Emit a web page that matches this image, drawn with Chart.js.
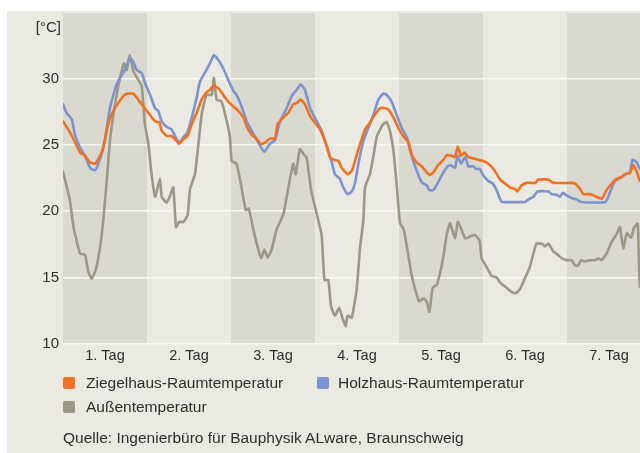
<!DOCTYPE html>
<html><head><meta charset="utf-8">
<script src="https://cdn.jsdelivr.net/npm/chart.js@4/dist/chart.umd.min.js"></script>
<style>
html,body{margin:0;padding:0;background:#fff;}
#wrap{position:relative;width:640px;height:453px;overflow:hidden;font-family:"Liberation Sans",Arial,sans-serif;color:#2e2e2e;}
#panel{position:absolute;left:7px;top:11px;right:0;bottom:0;background:#eae9e2;}
#cv{position:absolute;left:0;top:0;}
.tx{position:absolute;font-size:15.5px;line-height:18px;white-space:nowrap;}
.sw{position:absolute;width:12px;height:12px;border-radius:2px;}
</style></head>
<body><div id="wrap"><div id="panel"></div>
<canvas id="cv" width="640" height="380"></canvas>
<div class="tx" style="right:579px;top:18px;font-size:15px;">[°C]</div>
<div class="sw" style="left:63px;top:377px;background:#f37021"></div>
<div class="tx" style="left:86px;top:374px;">Ziegelhaus-Raumtemperatur</div>
<div class="sw" style="left:317px;top:377px;background:#7b93d0"></div>
<div class="tx" style="left:338px;top:374px;">Holzhaus-Raumtemperatur</div>
<div class="sw" style="left:63px;top:401px;background:#9b9886"></div>
<div class="tx" style="left:86px;top:398px;">Außentemperatur</div>
<div class="tx" style="left:63px;top:429px;">Quelle: Ingenierbüro für Bauphysik ALware, Braunschweig</div>
</div>
<script>
const dayLabels = ['1. Tag','2. Tag','3. Tag','4. Tag','5. Tag','6. Tag','7. Tag'];
const yTicks = [10,15,20,25,30];

const ziegelHours = [0,1.5,3,4.9,6.3,7.7,9.1,10.1,11.5,12.9,14.4,15.8,17.2,18.2,20.1,21.5,22.9,24.4,25.8,26.8,27.5,28.2,29.6,31,32,33.2,34.4,35.6,36.8,38.2,39.6,41,42,43.1,44.4,45.8,47.2,48.6,50.1,51.5,52.5,53.9,55.3,56.6,57.7,59.1,60.6,61.3,63,64.4,65.8,66.8,67.9,69.1,70.6,72,73.4,74.9,76.3,77.2,78.7,79.6,81.3,82.5,83.4,84.9,86.3,87.7,89.1,90.6,92,93,94.4,95.8,97.2,98.7,99.6,101,102.5,103.9,104.7,105.8,107.2,108.7,109.6,111,112,112.8,113.7,114.7,115.8,117.2,118.7,120.1,121.5,123,124.9,126.3,127.7,129.1,129.8,131,132.5,134.9,135.8,138.7,140.1,145.3,146.3,147.7,148.7,150.6,152,153.9,155.3,156.8,158.2,159.6,160.6,162,163,163.9,164.8];
const ziegelTemps = [26.8,26.2,25.45,24.45,24.2,23.7,23.6,23.95,24.8,26.6,27.6,28.2,28.7,28.9,28.9,28.45,27.95,27.45,26.95,26.75,26.75,26.1,25.7,25.7,25.45,25.1,25.45,25.7,26.6,27.45,28.45,29.0,29.2,29.5,29.3,28.8,28.3,27.95,27.6,27.1,26.4,25.8,25.5,25.1,25.2,25.5,25.5,26.6,27.1,27.45,28.1,28.2,28.45,28.1,27.2,26.7,26.2,25.3,24.1,23.9,23.8,23.3,22.8,23.05,23.8,25.1,26.2,26.7,27.3,27.8,27.8,27.7,27.1,26.3,25.7,25.2,24.3,23.7,23.4,22.95,22.75,22.95,23.5,23.9,24.25,24.2,24.1,24.9,24.2,24.45,24.1,24.0,23.9,23.8,23.6,23.2,22.4,22.1,21.8,21.7,21.5,21.95,22.15,22.15,22.4,22.4,22.15,22.15,22.1,21.7,21.3,21.3,21.15,20.95,21.6,22.1,22.45,22.6,22.8,22.9,23.5,23.0,22.3];

const holzHours = [0,1,2.5,3.4,4.9,6.3,7.7,9.1,10.1,11.5,12.5,13.4,14.4,15.3,16.3,17.7,19.1,20.1,21,22.5,23.4,24.9,26.3,27.2,28.2,29.6,31,32,33.2,34.4,35.6,36.8,38.2,39.1,40.6,42,43.1,44.4,45.8,47.2,48.7,49.6,51,52.5,53.9,55.8,57.5,59.1,60.6,62,63.9,65.3,66.8,67.9,69.1,70.6,72.5,73.9,75.3,76.8,77.7,79.1,80.1,81.3,82.5,83.4,84.4,85.8,87.2,88.7,90.1,91.5,92.5,93.9,95.3,96.8,98.2,99.6,101,102.5,103.9,104.7,105.8,107.2,108.7,110.1,111,112,112.8,113.7,114.9,115.8,117.2,118,119.1,120.1,121.5,122.8,123.9,124.9,125.5,128.2,132,133,134.4,135.6,138.7,139.6,141,142,142.8,143.9,145.3,146.8,148,155,156.3,157.7,159.1,160.6,162,162.7,163.9,164.8];
const holzTemps = [28.1,27.45,26.95,25.8,24.8,24.2,23.3,23.1,23.6,24.8,26.3,27.8,28.8,29.6,30.1,30.7,31.6,31.3,30.7,30.45,29.7,28.8,27.8,27.6,26.8,26.4,26.2,25.7,25.2,25.6,26.0,27.1,28.6,29.8,30.5,31.2,31.8,31.45,30.8,29.95,29.1,28.8,27.95,26.8,26.1,25.2,24.5,25.1,25.4,26.8,27.8,28.7,29.2,29.6,29.2,27.8,26.8,26.1,24.95,23.7,22.8,22.45,21.8,21.3,21.5,22.1,23.6,25.3,26.3,27.3,28.45,28.9,28.8,28.3,27.3,26.3,25.6,24.2,23.1,22.2,21.95,21.6,21.6,22.2,22.95,23.45,23.45,23.3,24.2,23.6,24.1,23.4,23.4,23.2,23.2,22.7,22.3,22.1,21.6,20.9,20.7,20.7,20.7,20.9,21.1,21.5,21.5,21.3,21.25,21.1,21.4,21.2,21.0,20.9,20.7,20.7,21.45,22.3,22.5,22.8,22.95,23.9,23.7,23.2];

const aussenHours = [0,2,3,4.9,6.3,7.2,8.2,9.4,10.6,11.5,12.5,13.4,14.4,15.3,16.3,17.4,18.2,19.1,20.1,21.5,22.5,23.4,24.4,25.3,26.3,27.7,28.2,29.6,30.6,31.5,32.3,33.2,34.4,35.6,36.3,37.7,38.7,39.6,41,42.5,43.1,43.9,45.3,46.8,47.7,48.2,49.6,51,52.2,53.1,54.4,55.6,56.6,57.5,58.5,59.6,61,63,64.4,65.8,66.5,67.7,69.1,69.6,70.9,72.5,73.9,74.7,75.8,76.6,77.7,78.9,79.8,80.8,81.3,82.5,83.9,84.9,85.8,86.3,87.7,88.7,89.6,90.6,91.5,92.5,93.4,94.4,95.3,96.3,97.4,98.7,99.6,100.6,101.7,103,103.9,104.7,105.6,106.8,107.7,108.7,109.6,110.6,112,112.8,113.6,114.9,116.3,117.7,119,119.6,121,122.5,123.9,124.9,126.8,128.2,129.3,130.6,132,133.4,134.4,135.3,136.8,137.7,138.7,140.1,141,142.5,143.9,145.3,146.3,147.2,148,149.1,150.6,152,153,153.9,155.3,156.8,158.2,159.1,160.1,161.1,162.3,163.2,164.2,164.5,164.8];
const aussenTemps = [23.0,20.8,18.8,16.8,16.7,15.45,14.9,15.6,17.3,19.3,22.3,25.3,27.3,28.8,30.1,31.2,30.7,31.8,30.6,29.95,29.45,26.6,25.1,22.8,21.1,22.45,21.1,20.65,21.2,21.8,18.8,19.2,19.2,19.7,21.7,22.8,25.1,27.3,28.8,28.8,30.1,28.45,28.3,26.8,25.6,23.8,23.6,21.8,20.1,20.2,18.6,17.3,16.45,17.1,16.5,17.1,18.6,19.8,21.8,23.6,22.8,24.7,24.2,24.1,21.6,19.8,18.2,14.8,14.8,12.8,12.1,12.7,11.95,11.3,12.1,11.95,14.1,17.3,19.3,21.8,22.8,24.2,25.6,26.2,26.6,26.75,26.1,24.6,22.1,19.1,18.6,16.6,15.2,14.1,13.2,13.4,13.2,12.4,14.2,14.45,15.3,16.6,18.2,19.1,17.95,19.2,18.8,17.95,18.1,18.2,17.8,16.45,15.8,15.1,15.0,14.6,14.2,13.9,13.8,14.1,14.95,15.8,16.8,17.55,17.55,17.35,17.55,16.95,16.8,16.45,16.3,16.3,15.9,15.9,16.3,16.2,16.3,16.3,16.45,16.3,16.8,17.7,18.3,18.8,17.2,18.35,18.0,18.8,19.05,16.6,14.3];

function pts(h, v){ return h.map((x,i)=>({x:x, y:v[i]})); }

const bands = {
  id:'bands',
  beforeDraw(c){
    const {ctx, chartArea:a, scales:{x}} = c;
    ctx.save();
    ctx.fillStyle = '#dad9cf';
    for (let d=0; d<7; d+=2){
      const x0 = Math.max(x.getPixelForValue(d*24), a.left);
      const x1 = Math.min(x.getPixelForValue(d*24+24), a.right);
      if (x1 > x0) ctx.fillRect(x0, a.top, x1-x0, a.bottom-a.top);
    }
    ctx.restore();
  }
};

const font = {family:'"Liberation Sans", Arial, sans-serif', size:15};
new Chart(document.getElementById('cv'), {
  type:'line',
  data:{datasets:[
    {label:'Ziegelhaus-Raumtemperatur', data:pts(ziegelHours, ziegelTemps), borderColor:'#f37021', borderWidth:2.6},
    {label:'Holzhaus-Raumtemperatur', data:pts(holzHours, holzTemps), borderColor:'#7b93d0', borderWidth:2.6},
    {label:'Außentemperatur', data:pts(aussenHours, aussenTemps), borderColor:'#9b9886', borderWidth:2.6}
  ]},
  options:{
    responsive:false, animation:false,
    layout:{padding:{top:11,left:0,right:0,bottom:0}},
    elements:{point:{radius:0}, line:{tension:0.15, borderCapStyle:'round', borderJoinStyle:'round'}},
    plugins:{legend:{display:false}, tooltip:{enabled:false}},
    scales:{
      x:{type:'linear', min:0, max:(640-63)/3.5,
        grid:{display:false, drawTicks:false}, border:{display:false},
        afterBuildTicks(s){ s.ticks = dayLabels.map((l,i)=>({value:i*24+12})); },
        afterFit(s){ s.height = 380-343.5; },
        ticks:{autoSkip:false, maxRotation:0, padding:4, color:'#2e2e2e', font:{family:font.family, size:14.5},
          callback:(v)=>dayLabels[Math.round((v-12)/24)]}
      },
      y:{min:10, max:35,
        grid:{color:'#f8f8f4', lineWidth:1.6, drawTicks:false}, border:{display:false},
        afterBuildTicks(s){ s.ticks = yTicks.map(v=>({value:v})); },
        afterFit(s){ s.width = 63; },
        ticks:{padding:4, color:'#2e2e2e', font:font}
      }
    }
  },
  plugins:[bands]
});
</script>
</body></html>
